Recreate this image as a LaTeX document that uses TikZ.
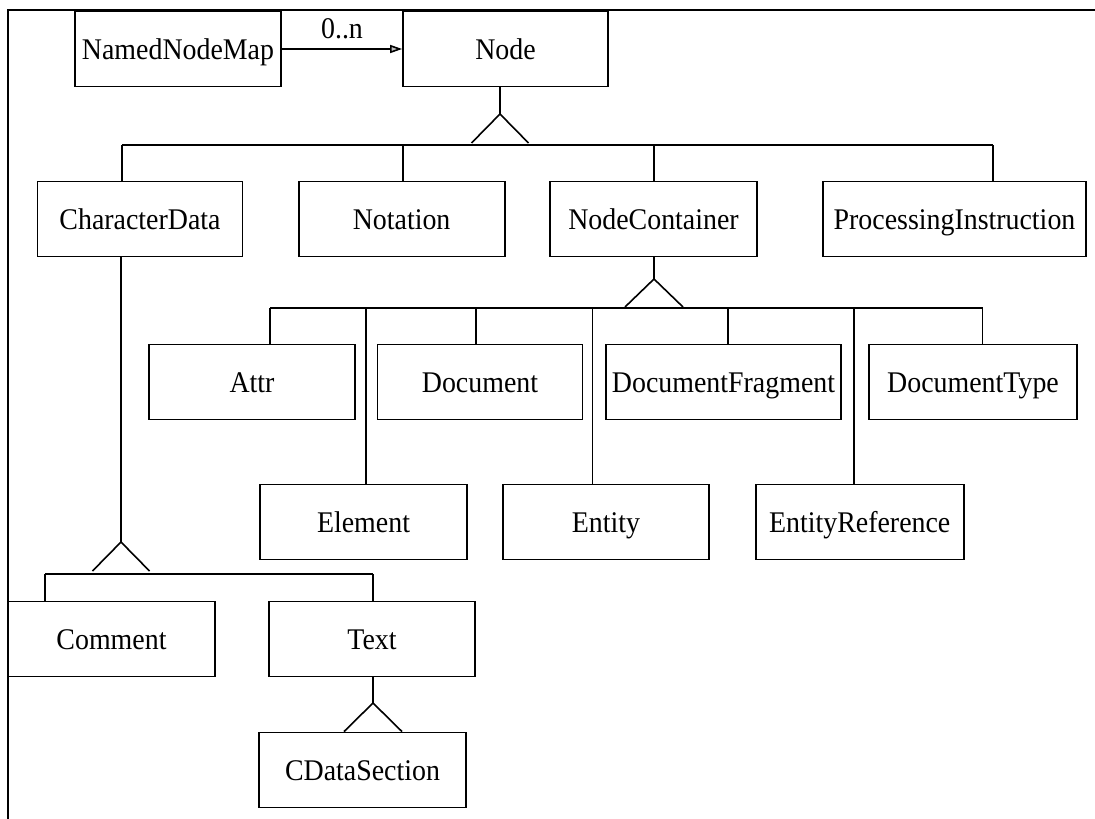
\documentclass[tikz,border=0pt]{standalone}
\usepackage{fontspec}
\setmainfont[FakeStretch=0.93]{Liberation Serif}
\usetikzlibrary{arrows.meta,calc}
\begin{document}
\begin{tikzpicture}[x=1pt,y=-1pt,
  cls/.style={draw, line width=1.8pt, inner sep=0pt, minimum height=75pt,
              text height=20pt, text depth=0pt,
              font=\fontsize{30}{32}\selectfont},
  conn/.style={line width=1.6pt},
  gen/.style={line width=1.6pt, line join=miter},
  lbl/.style={font=\fontsize{30}{32}\selectfont, inner sep=0pt}]
\useasboundingbox (0,0) rectangle (1095,819);

% outer frame (top and left edges)
\draw[line width=1.8pt] (1095,10) -- (8,10) -- (8,819);

% row 0
\node[cls, minimum width=206pt] (nnm)  at (178,49) {NamedNodeMap};
\node[cls, minimum width=205pt] (node) at (505.5,49) {Node};

% row 1
\node[cls, minimum width=205pt] (chd)  at (140,219) {CharacterData};
\node[cls, minimum width=206pt] (nota) at (401.6,219) {Notation};
\node[cls, minimum width=207pt] (ncon) at (653.5,219) {NodeContainer};
\node[cls, minimum width=263pt] (pi)   at (954.5,219) {ProcessingInstruction};

% row 2
\node[cls, minimum width=206pt] (attr) at (252,382) {Attr};
\node[cls, minimum width=205pt] (doc)  at (480,382) {Document};
\node[cls, minimum width=235pt] (dfr)  at (723.5,382) {DocumentFragment};
\node[cls, minimum width=208pt] (dty)  at (973,382) {DocumentType};

% row 3
\node[cls, minimum width=207pt] (elem) at (363.5,522) {Element};
\node[cls, minimum width=206pt] (ent)  at (606,522) {Entity};
\node[cls, minimum width=208pt] (eref) at (859.7,522) {EntityReference};

% row 4
\node[cls, minimum width=207pt]   (comm) at (111.5,639) {Comment};
\node[cls, minimum width=206.5pt] (text) at (372,639) {Text};

% row 5
\node[cls, minimum width=207pt] (cdat) at (362.5,770) {CDataSection};

% association NamedNodeMap -> Node
\draw[conn, -{Triangle[length=12pt,width=8pt,fill=gray!50]}]
  (nnm.east) -- (node.west) node[lbl, midway, above=9pt] {0..n};

% generalization apexes
\coordinate (t1) at (500,114);
\coordinate (t2) at (654,279);
\coordinate (t3) at (121,542);
\coordinate (t4) at (373,703);

% Node hierarchy
\draw[conn] (node.south -| t1) -- (t1);
\draw[gen] (t1) +(-28.5,29) -- (t1) -- +(28.5,29);
\draw[conn] (122,145) -- (993,145);
\foreach \n/\x in {chd/122, nota/403, ncon/654, pi/993}{
  \path (\x,145) coordinate (tmp);
  \draw[conn] (tmp) -- (\n.north -| tmp);
}

% NodeContainer hierarchy
\draw[conn] (ncon.south -| t2) -- (t2);
\draw[gen] (t2) +(-29,28) -- (t2) -- +(29,28);
\draw[conn] (270,308) -- (982.5,308);
\foreach \n/\x in {attr/270, elem/366, doc/476, ent/592.5, dfr/728, eref/854, dty/982.5}{
  \path (\x,308) coordinate (tmp);
  \draw[conn] (tmp) -- (\n.north -| tmp);
}

% CharacterData hierarchy
\draw[conn] (chd.south -| t3) -- (t3);
\draw[gen] (t3) +(-28.5,29) -- (t3) -- +(28.5,29);
\draw[conn] (45,574) -- (373,574);
\foreach \n/\x in {comm/45, text/373}{
  \path (\x,574) coordinate (tmp);
  \draw[conn] (tmp) -- (\n.north -| tmp);
}

% Text hierarchy
\draw[conn] (text.south -| t4) -- (t4);
\draw[gen] ($(cdat.north -| t4)+(-29,0)$) -- (t4) -- ($(cdat.north -| t4)+(29,0)$);
\end{tikzpicture}
\end{document}
